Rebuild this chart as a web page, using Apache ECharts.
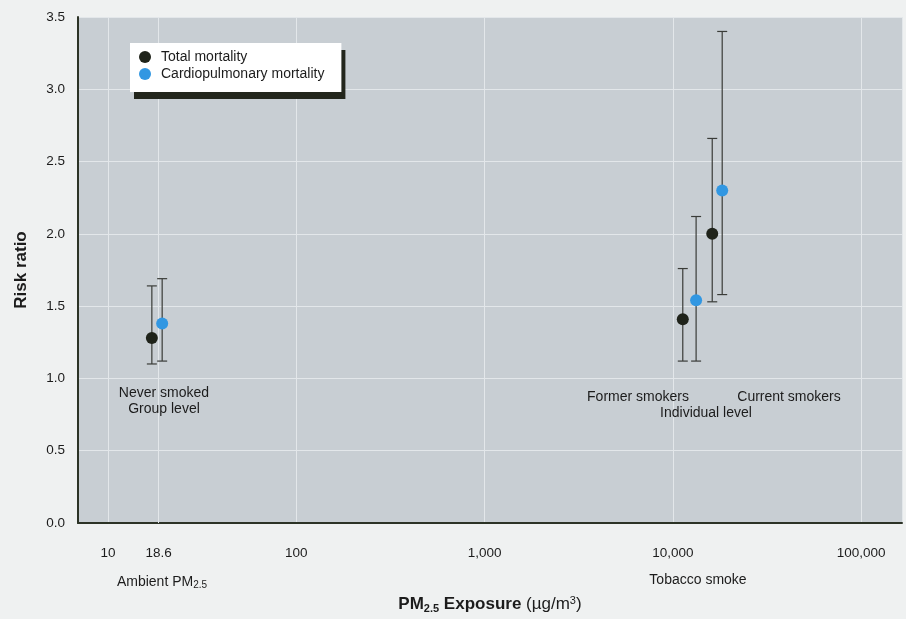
<!DOCTYPE html>
<html>
<head>
<meta charset="utf-8">
<script src="https://cdn.jsdelivr.net/npm/echarts@6/dist/echarts.min.js"></script>
<style>
  html, body { margin: 0; padding: 0; background: #eff1f1; }
  #chart { width: 906px; height: 619px; }
</style>
</head>
<body>
<div id="chart"></div>
<script>
// ---- data ----
const groups = ['Never smoked', 'Former smokers', 'Current smokers'];
const levels = ['Group level', 'Individual level'];
const totalExposure = [17.1, 11300, 16200];
const totalRR = [1.28, 1.41, 2.00];
const totalLow = [1.10, 1.12, 1.53];
const totalHigh = [1.64, 1.76, 2.66];
const cardioExposure = [19.4, 13300, 18300];
const cardioRR = [1.38, 1.54, 2.30];
const cardioLow = [1.12, 1.12, 1.58];
const cardioHigh = [1.69, 2.12, 3.40];
const specialTick = 18.6;            // extra x tick (ambient PM2.5 increment)
const xMin = 6.93, xMax = 165000;    // log axis extent
const yMin = 0, yMax = 3.5, yStep = 0.5;

const FONT = "'Liberation Sans', Arial, sans-serif";
const TXT = '#1c1c1c';
const DARK = '#1f231a';
const BLUE = '#3197e2';
const GRIDC = '#e3e7ea';
const BAR = '#3a3c38';

function build(xs, ys, lo, hi) {
  return xs.map((x, i) => [x, ys[i], lo[i], hi[i]]);
}
const totalData = build(totalExposure, totalRR, totalLow, totalHigh);
const cardioData = build(cardioExposure, cardioRR, cardioLow, cardioHigh);

function errorBar(params, api) {
  const x = api.value(0);
  const top = api.coord([x, api.value(3)]);
  const bot = api.coord([x, api.value(2)]);
  const w = 5;
  const st = { stroke: BAR, lineWidth: 1.2 };
  return {
    type: 'group',
    children: [
      { type: 'line', shape: { x1: top[0], y1: top[1], x2: bot[0], y2: bot[1] }, style: st },
      { type: 'line', shape: { x1: top[0] - w, y1: top[1], x2: top[0] + w, y2: top[1] }, style: st },
      { type: 'line', shape: { x1: bot[0] - w, y1: bot[1], x2: bot[0] + w, y2: bot[1] }, style: st }
    ]
  };
}

function isPow10(v) {
  const l = Math.log10(v);
  return Math.abs(l - Math.round(l)) < 1e-6;
}

function label(text, x, y, size) {
  return { type: 'text', x: x, y: y, z: 20, style: { text: text, font: size + 'px ' + FONT, fill: TXT, align: 'center', verticalAlign: 'middle' } };
}

const chart = echarts.init(document.getElementById('chart'), null, { renderer: 'canvas' });
chart.setOption({
  animation: false,
  backgroundColor: '#eff1f1',
  textStyle: { fontFamily: FONT },
  grid: {
    left: 78, right: 4, top: 17, bottom: 89,
    show: true, backgroundColor: '#c8ced3', borderWidth: 0
  },
  legend: {
    z: 20,
    orient: 'vertical',
    left: 130, top: 43,
    padding: [7, 17, 11, 9],
    itemGap: 3,
    itemWidth: 22, itemHeight: 12,
    icon: 'circle',
    backgroundColor: '#ffffff',
    shadowColor: '#23261c', shadowBlur: 0, shadowOffsetX: 4, shadowOffsetY: 7,
    textStyle: { fontFamily: FONT, fontSize: 14, color: TXT, lineHeight: 14 },
    data: ['Total mortality', 'Cardiopulmonary mortality']
  },
  xAxis: {
    type: 'log', logBase: 10, min: xMin, max: xMax,
    name: '{b|PM}{bs|2.5}{b| Exposure }{r|(µg/m}{sup|3}{r|)}',
    nameLocation: 'middle', nameGap: 72,
    nameTextStyle: {
      rich: {
        b: { fontFamily: FONT, fontWeight: 'bold', fontSize: 17, color: TXT },
        bs: { fontFamily: FONT, fontWeight: 'bold', fontSize: 11, color: TXT, verticalAlign: 'bottom', padding: [8, 0, 0, 0] },
        r: { fontFamily: FONT, fontSize: 17, color: TXT },
        sup: { fontFamily: FONT, fontSize: 11, color: TXT, verticalAlign: 'top', padding: [0, 0, 8, 0] }
      }
    },
    axisLine: { show: true, onZero: false, lineStyle: { color: '#2c3326', width: 2 } },
    axisTick: { show: false },
    axisLabel: {
      show: true, margin: 23, fontSize: 13.5, color: TXT, fontFamily: FONT,
      showMinLabel: false, showMaxLabel: false,
      formatter: v => isPow10(v) ? Math.round(v).toLocaleString('en-US') : ''
    },
    splitLine: { show: true, lineStyle: { color: GRIDC, width: 1 } }
  },
  yAxis: {
    type: 'value', min: yMin, max: yMax, interval: yStep,
    name: 'Risk ratio', nameLocation: 'middle', nameGap: 48,
    nameTextStyle: { fontFamily: FONT, fontWeight: 'bold', fontSize: 17, color: TXT },
    axisLine: { show: true, lineStyle: { color: '#2c3326', width: 2 } },
    axisTick: { show: false },
    axisLabel: { margin: 13, fontSize: 13.5, color: TXT, fontFamily: FONT, formatter: v => v.toFixed(1) },
    splitLine: { show: true, lineStyle: { color: GRIDC, width: 1 } }
  },
  graphic: [
    label(groups[0], 164, 393, 14),
    label(levels[0], 164, 409, 14),
    label(groups[1], 638, 397, 14),
    label(groups[2], 789, 397, 14),
    label(levels[1], 706, 413, 14),
    { type: 'text', x: 162, y: 582, z: 20, style: {
        text: '{a|Ambient PM}{s|2.5}', align: 'center', verticalAlign: 'middle',
        rich: { a: { font: '14px ' + FONT, fill: TXT }, s: { font: '10px ' + FONT, fill: TXT, verticalAlign: 'bottom', padding: [7, 0, 0, 0] } }
    } },
    label('Tobacco smoke', 698, 580, 14)
  ],
  series: [
    {
      name: 'Total mortality bars', type: 'custom', renderItem: errorBar,
      encode: { x: 0, y: [1, 2, 3] }, data: totalData, z: 2, silent: true,
      markLine: {
        silent: true, symbol: ['none', 'none'], animation: false, z: 1,
        lineStyle: { color: GRIDC, width: 1, type: 'solid' },
        label: { show: true, position: 'start', distance: 23, formatter: String(specialTick), fontSize: 13.5, color: TXT, fontFamily: FONT },
        data: [{ xAxis: specialTick }]
      }
    },
    {
      name: 'Cardio bars', type: 'custom', renderItem: errorBar,
      encode: { x: 0, y: [1, 2, 3] }, data: cardioData, z: 2, silent: true
    },
    {
      name: 'Total mortality', type: 'scatter', symbol: 'circle', symbolSize: 12,
      itemStyle: { color: DARK, opacity: 1 }, data: totalData.map(d => [d[0], d[1]]), z: 5
    },
    {
      name: 'Cardiopulmonary mortality', type: 'scatter', symbol: 'circle', symbolSize: 12,
      itemStyle: { color: BLUE, opacity: 1 }, data: cardioData.map(d => [d[0], d[1]]), z: 5
    }
  ]
});
</script>
</body>
</html>
